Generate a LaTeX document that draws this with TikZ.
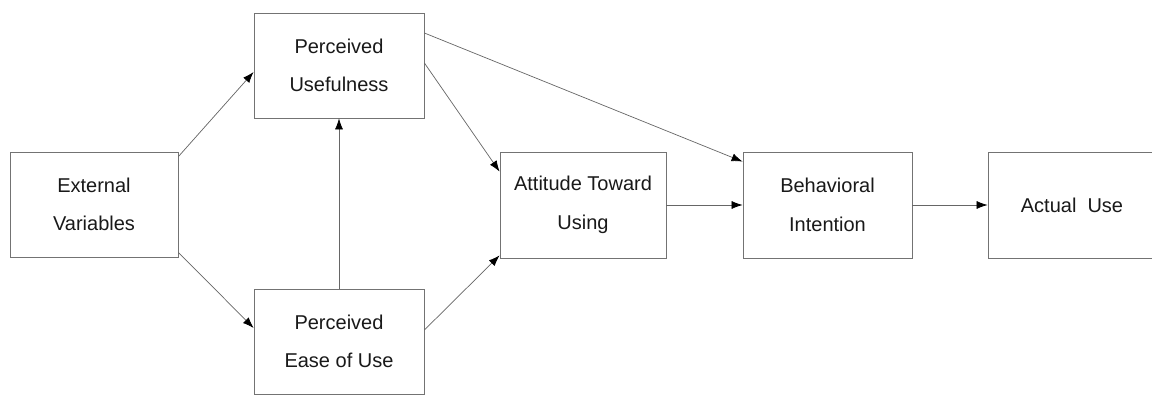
\documentclass[tikz,border=0pt]{standalone}
\usepackage{fontspec}
\setmainfont{Liberation Sans}
\usetikzlibrary{arrows.meta,calc}
\begin{document}
\begin{tikzpicture}[x=1pt,y=-1pt,
  box/.style={draw=black!55,line width=0.8pt,fill=white,inner sep=0pt,
    minimum width=#1,minimum height=105pt,align=center,
    font=\fontsize{20}{38.5}\selectfont,text=black!90},
  box/.default=169pt,
  conn/.style={draw=black!60,line width=0.7pt,
    -{Latex[length=11pt,width=8pt,color=black]}}]
\useasboundingbox[fill=white] (0,0) rectangle (1152,394);
\node[box=168pt] (ext) at (94,204.5) {External\\Variables};
\node[box=170pt] (pu) at (339,65.5) {Perceived\\Usefulness};
\node[box=170pt] (peu) at (339,341.5) {Perceived\\Ease of Use};
\node[box=166pt,minimum height=106pt] (atu) at (583,205) {Attitude Toward\\Using};
\node[box=169pt,minimum height=106pt] (bi) at (827.5,205) {Behavioral\\Intention};
\node[box=168pt,minimum height=106pt] (au) at (1072,205) {Actual\ \ Use};
\draw[conn] ([yshift=-5pt]ext.north east) -- ([yshift=-6.5pt]pu.west);
\draw[conn] ([yshift=5pt]ext.south east) -- ([yshift=13.5pt]peu.west);
\draw[conn] (peu.north) -- (pu.south);
\draw[conn] ([yshift=2.5pt]pu.east) -- ([yshift=-20pt]atu.north west);
\draw[conn] ([yshift=32.5pt]pu.east) -- ([yshift=-10pt]bi.north west);
\draw[conn] ([yshift=11.5pt]peu.east) -- ([yshift=3pt]atu.south west);
\draw[conn] (atu.east) -- (bi.west);
\draw[conn] (bi.east) -- (au.west);
\end{tikzpicture}
\end{document}
